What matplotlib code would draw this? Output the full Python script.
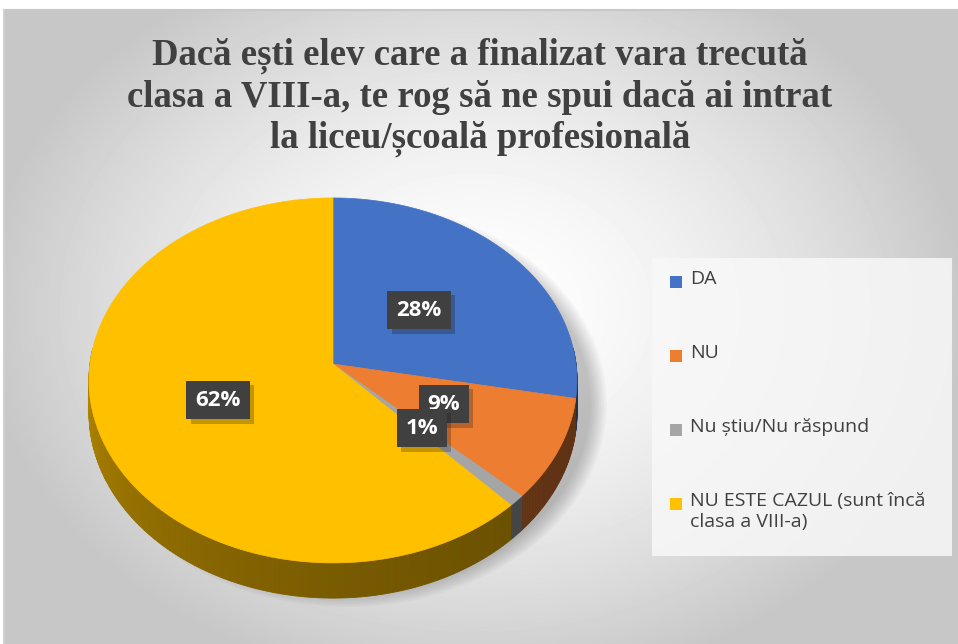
import numpy as np
import matplotlib.pyplot as plt
import matplotlib.patheffects as pe
from matplotlib.patches import Polygon, Rectangle, Ellipse

categories = ["DA", "NU", "Nu știu/Nu răspund", "NU ESTE CAZUL (sunt încă\nclasa a VIII-a)"]
values = [28, 9, 1, 62]
labels = ["28%", "9%", "1%", "62%"]
top_colors = ["#4472C4", "#ED7D31", "#A5A5A5", "#FFC000"]
title = "Dacă ești elev care a finalizat vara trecută\nclasa a VIII-a, te rog să ne spui dacă ai intrat\nla liceu/școală profesională"

W, H = 958, 644
fig = plt.figure(figsize=(W / 100, H / 100), dpi=100)
ax = fig.add_axes([0, 0, 1, 1])
ax.set_xlim(0, W)
ax.set_ylim(H, 0)
ax.axis("off")

# background: radial gradient, white in the middle, grey at the edges
yy, xx = np.mgrid[0:H - 10, 0:W - 4]
r = np.sqrt(((xx - 470) / 620.0) ** 2 + ((yy - 300) / 480.0) ** 2)
shade = np.clip(1.0 - 0.32 * r ** 1.6, 0.78, 1.0)
ax.imshow(shade, cmap="gray", vmin=0, vmax=1, extent=[4, W, H, 10], zorder=0)
ax.plot([4, W], [10, 10], color="#c8c8c8", lw=1.5, zorder=1)
ax.plot([4, 4], [10, H], color="#d0d0d0", lw=1.5, zorder=1)

# pie geometry (pixels), simple perspective so the far half looks smaller
cx, cy, A, B, k, depth = 333, 364, 243, 181, 0.09, 32


def proj(phi, drop=0.0):
    t = np.radians(phi)
    w = 1 + k * np.cos(t)
    return cx + A * np.sin(t) / w, cy + (B * np.cos(t) * -1 + drop) / w


# soft shadow under the pie
for i in range(12):
    ax.add_patch(Ellipse((cx + 14, cy + 40), 2 * A + 34 - i * 3, 2 * B + 44 - i * 3,
                         color="black", alpha=0.02, lw=0, zorder=1))

fracs = np.array(values, dtype=float) / sum(values)
bounds = np.concatenate([[0], np.cumsum(fracs) * 360])


def side_shade(col, phi):
    f = 0.40 + 0.30 * ((phi - 90) / 180.0) ** 2
    rgb = np.array(plt.matplotlib.colors.to_rgb(col))
    return tuple(rgb * f)


# side walls, front half only, shaded strip by strip
for i in range(len(values)):
    a0, a1 = max(bounds[i], 85), min(bounds[i + 1], 275)
    if a1 <= a0:
        continue
    ph = np.linspace(a0, a1, max(3, int((a1 - a0) * 2)))
    for p0, p1 in zip(ph[:-1], ph[1:]):
        x0, y0 = proj(p0)
        x1, y1 = proj(p1)
        x2, y2 = proj(p1, depth)
        x3, y3 = proj(p0, depth)
        c = side_shade(top_colors[i], 0.5 * (p0 + p1))
        ax.add_patch(Polygon([(x0, y0), (x1, y1), (x2, y2), (x3, y3)], closed=True,
                             fc=c, ec=c, lw=0.6, zorder=2))

# top face
for i in range(len(values)):
    x, y = proj(np.linspace(bounds[i], bounds[i + 1], 200))
    pts = np.column_stack([np.concatenate([[cx], x]), np.concatenate([[cy], y])])
    ax.add_patch(Polygon(pts, closed=True, fc=top_colors[i], ec=top_colors[i], lw=0.5, zorder=3))

# data labels, dark boxes with a small drop shadow
label_pos = [(419, 310), (444, 404), (422, 428), (218, 400)]
for lab, (lx, ly) in zip(labels, label_pos):
    t = ax.text(lx, ly, lab, ha="center", va="center", color="white", fontsize=16,
                fontweight="bold", family="Open Sans", zorder=5,
                bbox=dict(boxstyle="square,pad=0.4", fc="#404040", ec="none"))
    t.get_bbox_patch().set_path_effects([pe.SimplePatchShadow(offset=(3, -3), alpha=0.25), pe.Normal()])

# title
ax.text(480, 97, title, ha="center", va="center", fontsize=26.5, fontweight="bold",
        family="Liberation Serif", color="#404040", linespacing=1.22, zorder=5)

# legend
ax.add_patch(Rectangle((652, 258), 300, 298, fc="#f8f8f8", ec="none", alpha=0.85, zorder=2))
leg_y = [282, 356, 430, 504]
for cat, col, ly in zip(categories, top_colors, leg_y):
    ax.add_patch(Rectangle((670, ly - 6), 12, 12, fc=col, ec="none", zorder=5))
    ax.text(690, ly - 12, cat, ha="left", va="top", fontsize=14, color="#404040",
            family="Open Sans", linespacing=1.25, zorder=5)

fig.savefig("out.png", dpi=100)
